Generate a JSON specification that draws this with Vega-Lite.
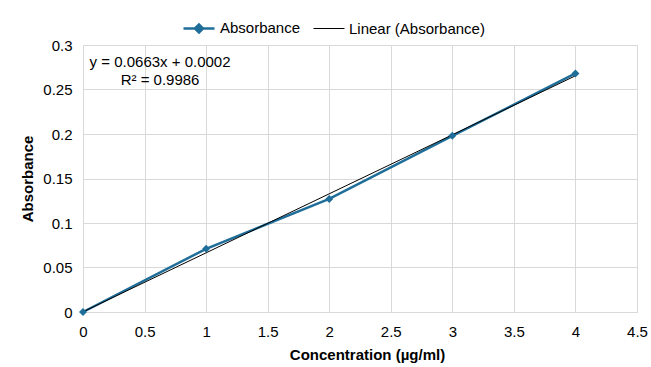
{
  "$schema": "https://vega.github.io/schema/vega-lite/v6.json",
  "width": 554,
  "height": 267,
  "autosize": {"type": "none"},
  "padding": {"left": 83, "top": 45, "right": 14, "bottom": 55},
  "background": "white",
  "config": {
    "font": "Liberation Sans",
    "view": {"stroke": "#d9d9d9", "strokeWidth": 1},
    "axis": {
      "gridColor": "#d9d9d9",
      "gridWidth": 1,
      "ticks": false,
      "labelFont": "Liberation Sans",
      "labelFontSize": 15,
      "labelColor": "#000000",
      "titleFont": "Liberation Sans",
      "titleFontSize": 15,
      "titleFontWeight": "bold",
      "titleColor": "#000000"
    }
  },
  "layer": [
    {
      "data": {
        "values": [
          {"conc": 0, "abs": 0, "series": "Absorbance"},
          {"conc": 1, "abs": 0.071, "series": "Absorbance"},
          {"conc": 2, "abs": 0.127, "series": "Absorbance"},
          {"conc": 3, "abs": 0.198, "series": "Absorbance"},
          {"conc": 4, "abs": 0.268, "series": "Absorbance"},
          {"conc": 0, "abs": 0.0002, "series": "Linear (Absorbance)"},
          {"conc": 4, "abs": 0.2654, "series": "Linear (Absorbance)"}
        ]
      },
      "layer": [
        {
          "mark": {"type": "line", "clip": false},
          "encoding": {
            "x": {
              "field": "conc", "type": "quantitative",
              "scale": {"domain": [0, 4.5], "nice": false},
              "axis": {
                "values": [0, 0.5, 1, 1.5, 2, 2.5, 3, 3.5, 4, 4.5],
                "format": "~g",
                "labelPadding": 12,
                "domainColor": "#d9d9d9",
                "title": "Concentration (µg/ml)",
                "titlePadding": 8,
                "titleX": 284,
                "labelFlush": false
              }
            },
            "y": {
              "field": "abs", "type": "quantitative",
              "scale": {"domain": [0, 0.3], "nice": false},
              "axis": {
                "values": [0, 0.05, 0.1, 0.15, 0.2, 0.25, 0.3],
                "format": "~g",
                "labelPadding": 11,
                "domain": false,
                "title": "Absorbance",
                "titlePadding": 7
              }
            },
            "strokeWidth": {
              "field": "series", "type": "nominal",
              "scale": {"domain": ["Absorbance", "Linear (Absorbance)"], "range": [2.5, 1]},
              "legend": null
            },
            "color": {
              "field": "series", "type": "nominal",
              "scale": {"domain": ["Absorbance", "Linear (Absorbance)"], "range": ["#1f6e9a", "#000000"]},
              "legend": {
                "title": null,
                "orient": "none",
                "direction": "horizontal",
                "legendX": 99,
                "legendY": -34,
                "padding": 0,
                "labelFontSize": 15,
                "labelColor": "#000000",
                "labelOffset": 4,
                "columnSpacing": 20,
                "symbolSize": 961,
                "symbolStrokeWidth": 1,
                "encode": {
                  "symbols": {
                    "update": {
                      "shape": {"signal": "datum.value == 'Absorbance' ? 'M-1,0L-0.26,0M0.26,0L1,0M-0.26,0L0,-0.26L0.26,0L0,0.26Z' : 'M-1,0L1,0'"},
                      "fill": {"signal": "datum.value == 'Absorbance' ? '#1f6e9a' : 'transparent'"},
                      "stroke": {"signal": "datum.value == 'Absorbance' ? '#1f6e9a' : '#000000'"},
                      "strokeWidth": {"signal": "datum.value == 'Absorbance' ? 2.5 : 1"}
                    }
                  }
                }
              }
            }
          }
        },
        {
          "transform": [{"filter": "datum.series == 'Absorbance'"}],
          "mark": {"type": "point", "shape": "diamond", "filled": true, "size": 64, "opacity": 1, "color": "#1f6e9a", "clip": false},
          "encoding": {
            "x": {"field": "conc", "type": "quantitative"},
            "y": {"field": "abs", "type": "quantitative"}
          }
        }
      ]
    },
    {
      "data": {
        "values": [
          {"conc": 0.626, "abs": 0.281, "label": "y = 0.0663x + 0.0002"},
          {"conc": 0.626, "abs": 0.2607, "label": "R² = 0.9986"}
        ]
      },
      "mark": {"type": "text", "align": "center", "baseline": "middle", "fontSize": 15, "font": "Liberation Sans", "color": "#000000"},
      "encoding": {
        "x": {"field": "conc", "type": "quantitative"},
        "y": {"field": "abs", "type": "quantitative"},
        "text": {"field": "label"}
      }
    }
  ]
}
